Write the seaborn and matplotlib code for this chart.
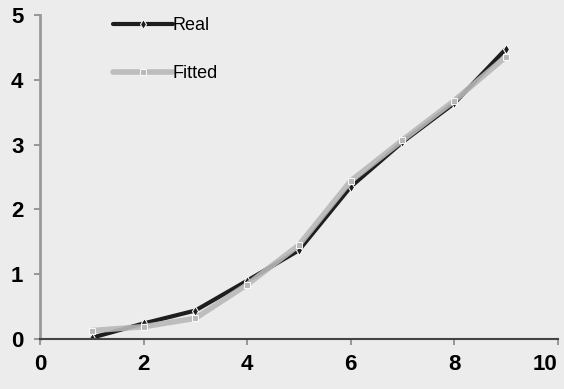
import numpy as np
import pandas as pd
import matplotlib
matplotlib.use("Agg")
import matplotlib.pyplot as plt
import seaborn as sns

x_vals = [1, 2, 3, 4, 5, 6, 7, 8, 9]
real_vals = [0.02, 0.24, 0.44, 0.90, 1.37, 2.35, 3.04, 3.64, 4.48]
fitted_vals = [0.13, 0.19, 0.32, 0.84, 1.45, 2.44, 3.07, 3.68, 4.36]
series_names = ["Real", "Fitted"]
colors = ["#1e1e1e", "#b8b8b8"]

df = pd.DataFrame({
    "x": x_vals * 2,
    "y": real_vals + fitted_vals,
    "Series": [series_names[0]] * len(x_vals) + [series_names[1]] * len(x_vals),
})

sns.set_style("ticks")
plt.rcParams['font.family'] = ['Liberation Sans', 'DejaVu Sans']
bg = "#ececec"

fig = plt.figure(figsize=(5.64, 3.89), dpi=100, facecolor=bg)
ax = fig.add_axes([0.071, 0.1285, 0.918, 0.8325])
ax.set_facecolor(bg)

sns.lineplot(data=df, x="x", y="y", hue="Series", style="Series",
             palette=colors, markers=["d", "s"], dashes=False,
             markersize=5, linewidth=3, ax=ax)
# fitted line a bit thicker
for line in ax.get_lines():
    if line.get_color() == colors[1]:
        line.set_linewidth(4)
        line.set_alpha(0.9)

ax.set_xlim(0, 10)
ax.set_ylim(0, 5)
ax.set_xticks([0, 2, 4, 6, 8, 10])
ax.set_yticks([0, 1, 2, 3, 4, 5])
ax.set_xlabel("")
ax.set_ylabel("")
ax.tick_params(axis="both", labelsize=16, length=4, width=1.2,
               color="#888888", labelcolor="black")
ax.tick_params(axis="x", pad=7)
ax.tick_params(axis="y", pad=8)
for lab in ax.get_xticklabels() + ax.get_yticklabels():
    lab.set_fontweight("bold")
ax.get_xticklabels()[-1].set_horizontalalignment("right")

sns.despine(ax=ax)
ax.spines["left"].set_color("#999999")
ax.spines["left"].set_linewidth(2)
ax.spines["bottom"].set_color("#444444")
ax.spines["bottom"].set_linewidth(1.5)

leg = ax.legend(loc="upper left", bbox_to_anchor=(0.11, 1.045), frameon=False,
                fontsize=13, handlelength=3.3, handletextpad=0.0,
                labelspacing=1.75)
for t in leg.get_texts():
    t.set_color("black")

plt.savefig("out.png", dpi=100, facecolor=bg)
